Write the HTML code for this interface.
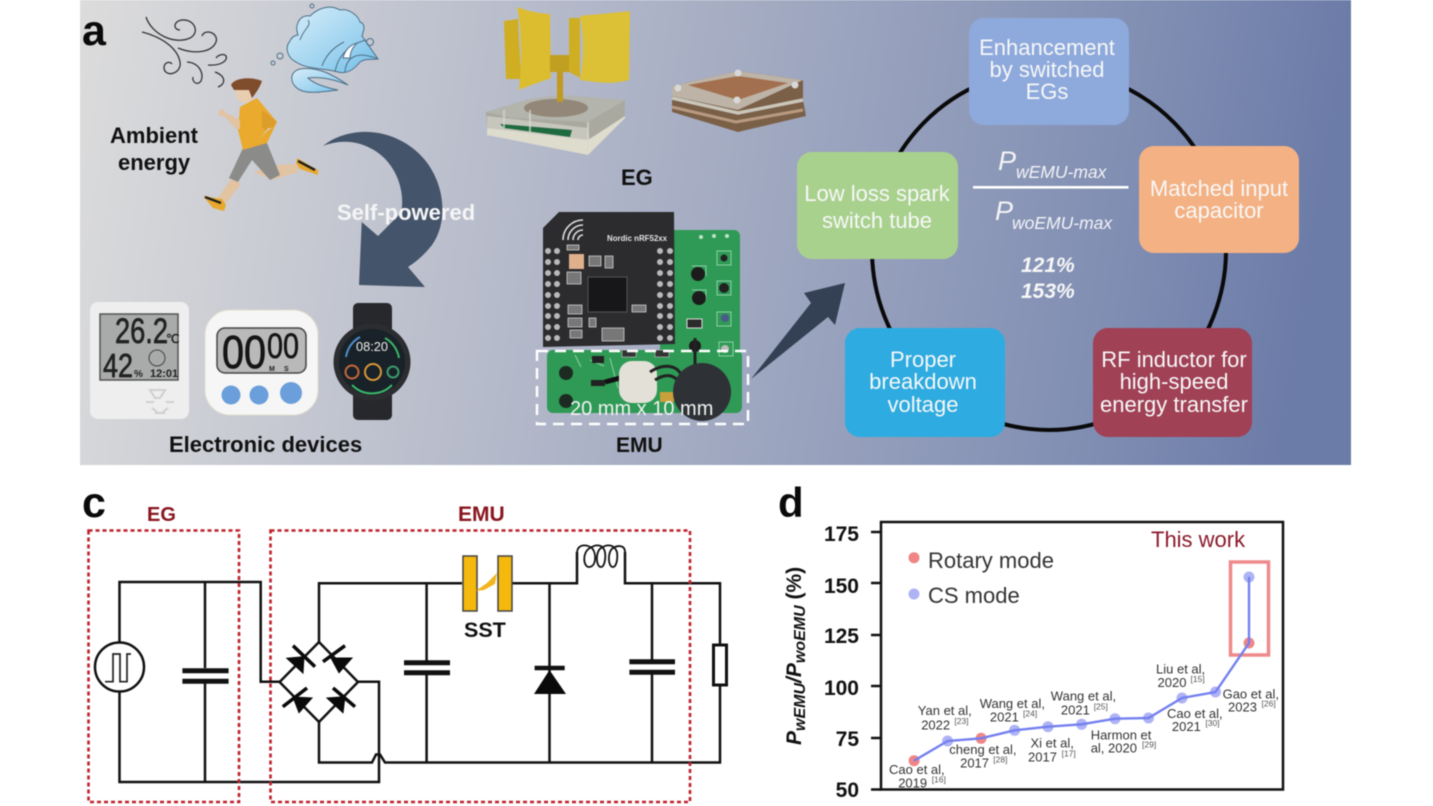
<!DOCTYPE html>
<html><head><meta charset="utf-8"><title>EMU diagram</title>
<style>
html,body{margin:0;padding:0;background:#fff;width:1433px;height:806px;overflow:hidden}
svg{display:block;filter:blur(.6px)}
text{font-family:"Liberation Sans",sans-serif}
.b{font-weight:bold}
.w{fill:#f7f8f8;font-size:22px;text-anchor:middle}
.c{font-size:13px;fill:#333}
.s{font-size:8.500px;fill:#555}
.t{font-size:21px;font-weight:bold;text-anchor:end;fill:#111}
.wire{fill:none;stroke:#111;stroke-width:2.500}
.plate{stroke:#111;stroke-width:5;fill:none}
</style></head><body>
<svg width="1433" height="806" viewBox="0 0 1433 806" xmlns="http://www.w3.org/2000/svg">
<defs>
<linearGradient id="bg" x1="0" y1="0" x2="1" y2="0.06">
<stop offset="0" stop-color="#dcdcdc"/><stop offset=".3" stop-color="#bdc1ce"/><stop offset=".6" stop-color="#9ca5bf"/><stop offset=".85" stop-color="#808eb3"/><stop offset="1" stop-color="#6c7ca8"/>
</linearGradient>
<linearGradient id="cloud" x1="0" y1="0" x2="1" y2="1"><stop offset="0" stop-color="#d8eef9"/><stop offset=".6" stop-color="#9ed3f0"/><stop offset="1" stop-color="#6fbde8"/></linearGradient>
</defs>
<rect width="1433" height="806" fill="#fff"/>
<rect x="80" y="0" width="1271" height="465" fill="url(#bg)"/>

<!-- labels -->
<text x="82" y="45" font-size="43" class="b" fill="#0a0a0a">a</text>
<text x="110" y="143" font-size="22" class="b" fill="#111">Ambient</text>
<text x="118" y="170" font-size="22" class="b" fill="#111">energy</text>

<!-- wind -->
<g fill="none" stroke="#333" stroke-width="1.300">
<path d="M146 17C152 35 175 45 190 38C200 33 195 19 182 20C173 21 173 30 180 30"/>
<path d="M142 32C165 38 178 50 180 62C182 74 165 78 164 68C164 62 170 61 172 64"/>
<path d="M178 48C195 55 212 52 216 42C219 33 205 28 202 36"/>
<path d="M187 62C200 63 204 74 201 81C197 86 192 82 193 77"/>
<path d="M208 65C222 66 228 60 226 56C224 53 218 55 216 58"/>
<path d="M215 72C226 76 226 84 218 87"/>
</g>

<!-- cloud -->
<g stroke="#4d6f86" stroke-width="1">
<path d="M296 62C288 58 284 48 290 41C292 36 297 35 298 35C294 25 300 14 310 16C318 8 330 4 340 10C348 8 358 15 360 22C366 24 364 30 362 36L378 59C370 60 366 58 360 62C352 72 345 74 338 72C325 68 308 70 296 62Z" fill="url(#cloud)"/>
<path d="M300 90C290 85 288 72 300 69C318 66 335 76 348 85C336 80 320 76 308 78C314 84 328 88 338 90C322 92 308 94 300 90Z" fill="url(#cloud)"/>
<g fill="none"><path d="M335 72C338 55 350 44 366 40"/><path d="M345 72C346 58 356 50 378 59"/><path d="M322 66C326 55 334 47 344 42"/><path d="M300 40C304 28 312 26 308 20"/></g>
<path d="M343 58C345 50 350 45 357 43C352 48 350 53 350 58Z" fill="#fff"/>
<circle cx="280" cy="56" r="3" fill="none"/><circle cx="273" cy="63" r="2" fill="none"/><circle cx="312" cy="6" r="2" fill="none"/><circle cx="370" cy="42" r="3.500" fill="none"/>
</g>

<!-- runner -->
<g>
<path d="M254 172L272 180L298 172L298 164L278 165Z" fill="#e2c3a2"/>
<path d="M232 178L241 184L226 203L218 198Z" fill="#e2c3a2"/>
<path d="M243 148L267 143L280 175L270 180L252 160L238 182L229 178Z" fill="#8b8b8a"/>
<path d="M240 107L257 98L277 122L267 143L243 150L238 130Z" fill="#e9aa2e"/>
<path d="M262 110L277 122L268 133L262 127Z" fill="#dd9d2a"/>
<path d="M240 120L222 111L224 116L236 129L240 129Z" fill="#e2c3a2"/>
<circle cx="222" cy="113" r="3.500" fill="#e2c3a2"/>
<path d="M268 128L260 138L264 134L272 128Z" fill="#e2c3a2"/>
<path d="M235 90L252 88L252 100L246 103L238 100Z" fill="#e8cdb0"/>
<path d="M231 85C234 78 250 76 262 81C260 87 256 93 252 98L249 90L240 90L234 90Z" fill="#7f4c2c"/>
<path d="M203 196L222 199L226 205L224 211L213 208Z" fill="#e8a82e"/>
<path d="M205 197L221 203" stroke="#222" stroke-width="2.500"/>
<path d="M297 158L318 170L318 175L300 169L296 163Z" fill="#e8a82e"/>
<path d="M298 161L315 170" stroke="#222" stroke-width="2.500"/>
</g>

<!-- big arrow -->
<path d="M323 146C345 128 385 125 415 150C445 175 450 220 432 245Q422 258 408 267L425 287L359 285L361.700 222L378 236L401 213C406 190 395 160 370 148C355 140 338 140 323 146Z" fill="#44546a"/>
<text x="337" y="220" font-size="22" class="b" fill="#f5f5f5">Self-powered</text>

<!-- thermometer -->
<rect x="90" y="302" width="99" height="117" rx="8" fill="#eeeeee"/>
<rect x="100" y="314" width="78" height="66" fill="#a8abaa" stroke="#555" stroke-width="1.500"/>
<text x="115" y="343" font-size="35" fill="#222" stroke="#222" stroke-width=".7" textLength="53" lengthAdjust="spacingAndGlyphs">26.2</text>
<text x="103" y="377" font-size="33" fill="#222" stroke="#222" stroke-width=".7" textLength="30" lengthAdjust="spacingAndGlyphs">42</text>
<text x="134" y="377" font-size="10" class="b" fill="#222">%</text>
<text x="150" y="377" font-size="11" class="b" fill="#222">12:01</text>
<circle cx="157" cy="358" r="8" fill="none" stroke="#444"/>
<text x="166" y="343" font-size="12" class="b" fill="#222">℃</text>
<g stroke="#cfcfcf" stroke-width="2" fill="none"><path d="M150 390L165 390L160 398L155 398Z"/><path d="M146 402h8M166 402h8M152 408l5 4M168 408l-5 4M155 413h10"/></g>

<!-- timer -->
<rect x="205" y="310" width="113" height="105" rx="25" fill="#f6f6f6" stroke="#e0dccd"/>
<rect x="217" y="328" width="89" height="45" rx="8" fill="#b9b9b9" stroke="#444" stroke-width="1.500"/>
<text x="222" y="368" font-size="46" fill="#151515" stroke="#151515" stroke-width=".8" textLength="44" lengthAdjust="spacingAndGlyphs">00</text>
<text x="267" y="358" font-size="35" fill="#151515" stroke="#151515" stroke-width=".6" textLength="32" lengthAdjust="spacingAndGlyphs">00</text>
<text x="269" y="371" font-size="7" class="b" fill="#222">M</text><text x="284" y="371" font-size="7" class="b" fill="#222">S</text>
<circle cx="231" cy="395" r="9.500" fill="#6b9fdb"/><circle cx="259" cy="395" r="9.500" fill="#6b9fdb"/><circle cx="291" cy="393" r="11" fill="#6b9fdb"/>

<!-- watch -->
<rect x="353" y="303" width="39" height="117" rx="5" fill="#26282b"/>
<circle cx="372" cy="362" r="38.500" fill="#2b2d30"/>
<circle cx="372" cy="362" r="33" fill="#182228"/>
<text x="356" y="351" font-size="13" fill="#eee" textLength="32" lengthAdjust="spacingAndGlyphs">08:20</text>
<g fill="none" stroke-width="2">
<path d="M346 357A27 27 0 0 1 360 337" stroke="#4d8fd0"/>
<path d="M385 338A28 28 0 0 1 399 358" stroke="#3cb56a"/>
<path d="M352 385A28 28 0 0 0 392 385" stroke="#3cb56a"/>
<circle cx="352" cy="372" r="6.500" stroke="#c9683a"/><circle cx="373" cy="372" r="8" stroke="#d9963a"/><circle cx="393" cy="372" r="5.500" stroke="#3c9a6a"/>
</g>
<text x="169" y="452" font-size="22" class="b" fill="#111">Electronic devices</text>

<!-- turbine -->
<g>
<path d="M486 112L530 99L560 95L625 100L625 117L588 155L487 133Z" fill="#a9a99f"/>
<path d="M486 112L530 99L560 95L625 100L588 122L512 118Z" fill="#b3b4ac"/>
<ellipse cx="556" cy="108" rx="32" ry="9" fill="#928778"/>
<path d="M487 116L588 128L590 142L487 128Z" fill="#c6c6bd"/>
<path d="M500 124L572 130L570 137L504 128Z" fill="#1f6b3f"/>
<path d="M588 140L625 116L625 118L588 155L487 135L487 128Z" fill="#dedccd"/>
<path d="M504 110L504 128M530 110L530 132M588 122L588 150" stroke="#d8d8d0" stroke-width="2" opacity=".7"/>
<rect x="557" y="72" width="6" height="30" fill="#c19a1f"/>
<path d="M504 21L518 19L521 79L506 79Z" fill="#cfae22"/>
<path d="M517 7C530 12 544 14 550 14L551 78C540 82 528 86 519 90C522 60 522 30 517 7Z" fill="#dcbd30"/>
<rect x="550" y="55" width="30" height="17" fill="#c19f20"/>
<path d="M569 18L580 18L580 78L569 72Z" fill="#cfae22"/>
<path d="M580 16C598 14 615 13 630 11L629 80C612 85 595 82 580 80C584 60 584 35 580 16Z" fill="#dcc035"/>
</g>

<!-- stack -->
<g>
<path d="M672 86L738 71L803 80L803 100L806 116L738 132L672 112Z" fill="#7b6048"/>
<path d="M672 86L738 71L803 80L738 110L672 96Z" fill="#bdb3a6"/>
<path d="M688 85L738 76L788 83L738 100Z" fill="#a3704f"/>
<path d="M672 98L738 113L803 100" fill="none" stroke="#c9c6ba" stroke-width="3.500"/>
<path d="M672 107L736 122L803 110" fill="none" stroke="#b89a80" stroke-width="3"/>
<circle cx="678" cy="88" r="3.500" fill="#d8d8d8"/><circle cx="738" cy="73" r="3.500" fill="#d8d8d8"/><circle cx="795" cy="85" r="3.500" fill="#d8d8d8"/><circle cx="737" cy="100" r="3.500" fill="#d8d8d8"/>
</g>
<text x="621" y="185" font-size="22" class="b" fill="#111">EG</text>

<!-- PCB -->
<rect x="660" y="230" width="80" height="135" rx="6" fill="#2e9a55"/>
<rect x="547" y="350" width="195" height="63" rx="6" fill="#2e9a55"/>
<g fill="none" stroke="#8fd0a8" stroke-width="1"><rect x="717" y="251" width="14" height="14"/><rect x="717" y="281" width="14" height="14"/><rect x="717" y="312" width="14" height="14"/><rect x="719" y="342" width="14" height="14"/><path d="M692 266h14v10M692 290h14v10"/><path d="M590 360l14 6M610 358l8 30M575 355l6 12"/></g>
<circle cx="701" cy="237" r="2" fill="#bfe3cb"/><circle cx="714" cy="236" r="2" fill="#bfe3cb"/><circle cx="727" cy="236" r="2" fill="#bfe3cb"/>
<circle cx="724" cy="258" r="3.500" fill="#222"/><circle cx="724" cy="288" r="5" fill="#222"/><circle cx="725" cy="318" r="4" fill="#4a5a8a"/><circle cx="725" cy="349" r="4" fill="#bbb"/>
<circle cx="698" cy="274" r="7" fill="#1c1c1c"/><circle cx="699" cy="298" r="7" fill="#1c1c1c"/><rect x="687" y="319" width="15" height="9" fill="#2a2a2a" stroke="#ddd"/>
<circle cx="695" cy="346" r="6" fill="#1d1d1d"/><path d="M695 338V365" stroke="#222" stroke-width="3"/>
<path d="M543 228L559 212L674 212L675 344L543 347Z" fill="#2c2c2f"/>
<text x="607" y="241" font-size="8.500" class="b" fill="#e3e3e3" textLength="60" lengthAdjust="spacingAndGlyphs">Nordic nRF52xx</text>
<g fill="none" stroke="#ddd" stroke-width="1.600"><path d="M563 240A20 20 0 0 1 583 220"/><path d="M568 240A15 15 0 0 1 583 225"/><path d="M573 240A10 10 0 0 1 583 230"/><path d="M578 240A5 5 0 0 1 583 235"/></g>
<rect x="588" y="277" width="39" height="35" fill="#17171a" stroke="#555"/>
<rect x="569" y="254" width="15" height="15" fill="#e0b08c"/>
<g fill="#777" stroke="#ddd" stroke-width=".7"><rect x="567" y="272" width="14" height="12"/><rect x="589" y="256" width="12" height="10"/><rect x="605" y="256" width="8" height="12"/><rect x="632" y="305" width="14" height="7"/><rect x="568" y="305" width="14" height="9"/><rect x="568" y="318" width="14" height="9"/><rect x="570" y="330" width="12" height="8"/><rect x="602" y="328" width="22" height="13"/><rect x="589" y="318" width="7" height="9"/><rect x="567" y="245" width="12" height="5"/></g>
<g fill="#b9b9b9"><circle cx="548" cy="251" r="3"/><circle cx="557" cy="251" r="3"/><circle cx="548" cy="262" r="3"/><circle cx="557" cy="262" r="3"/><circle cx="548" cy="273" r="3"/><circle cx="557" cy="273" r="3"/><circle cx="548" cy="284" r="3"/><circle cx="557" cy="284" r="3"/><circle cx="548" cy="295" r="3"/><circle cx="557" cy="295" r="3"/><circle cx="548" cy="306" r="3"/><circle cx="557" cy="306" r="3"/><circle cx="548" cy="316" r="3"/><circle cx="557" cy="316" r="3"/><circle cx="548" cy="327" r="3"/><circle cx="557" cy="327" r="3"/><circle cx="548" cy="338" r="3"/><circle cx="557" cy="338" r="3"/>
<circle cx="660" cy="251" r="3"/><circle cx="670" cy="251" r="3"/><circle cx="660" cy="262" r="3"/><circle cx="670" cy="262" r="3"/><circle cx="660" cy="273" r="3"/><circle cx="670" cy="273" r="3"/><circle cx="660" cy="284" r="3"/><circle cx="670" cy="284" r="3"/><circle cx="660" cy="295" r="3"/><circle cx="670" cy="295" r="3"/><circle cx="660" cy="306" r="3"/><circle cx="670" cy="306" r="3"/><circle cx="660" cy="316" r="3"/><circle cx="670" cy="316" r="3"/><circle cx="660" cy="327" r="3"/><circle cx="670" cy="327" r="3"/><circle cx="660" cy="338" r="3"/><circle cx="670" cy="338" r="3"/></g>
<circle cx="566" cy="373" r="7" fill="#1c2a22"/><circle cx="566" cy="401" r="7" fill="#1c2a22"/>
<rect x="592" y="356" width="12" height="7" fill="#222"/><rect x="591" y="380" width="14" height="6" fill="#222"/><rect x="622" y="350" width="14" height="7" fill="#333" stroke="#ccc" stroke-width=".6"/><rect x="655" y="350" width="14" height="7" fill="#333" stroke="#ccc" stroke-width=".6"/>
<path d="M605 382L620 378" stroke="#111" stroke-width="5"/>
<rect x="619" y="361" width="38" height="42" rx="13" fill="#e3e0d8"/>
<path d="M650 372C665 362 680 366 682 378M655 380C668 372 676 376 680 384" fill="none" stroke="#222" stroke-width="3"/>
<rect x="660" y="392" width="14" height="10" fill="#c9a03a"/>
<circle cx="702" cy="392" r="29" fill="#2e3236"/>
<rect x="537" y="351" width="211" height="73" fill="none" stroke="#fff" stroke-width="2.500" stroke-dasharray="11 7"/>
<text x="570" y="415" font-size="20" fill="#f1f1f1">20 mm x 10 mm</text>
<text x="616" y="452" font-size="21" class="b" fill="#111">EMU</text>

<!-- small arrow -->
<path d="M751 379L811 303L804 293L845 283L835 325L828 317Z" fill="#344154"/>

<!-- ring -->
<ellipse cx="1049" cy="250" rx="177" ry="180" fill="none" stroke="#0a0a0a" stroke-width="4"/>
<rect x="969" y="18" width="160" height="107" rx="15" fill="#8ea9db"/>
<rect x="797" y="152" width="161" height="107" rx="15" fill="#a9d18e"/>
<rect x="1139" y="146" width="160" height="107" rx="15" fill="#f4b183"/>
<rect x="845" y="328" width="160" height="109" rx="15" fill="#2eabe0"/>
<rect x="1093" y="328" width="159" height="109" rx="15" fill="#a04155"/>
<text x="1047" y="55" class="w">Enhancement</text><text x="1047" y="77" class="w">by switched</text><text x="1047" y="99" class="w">EGs</text>
<text x="877" y="201" class="w">Low loss spark</text><text x="877" y="228" class="w">switch tube</text>
<text x="1219" y="196" class="w">Matched input</text><text x="1219" y="218" class="w">capacitor</text>
<text x="923" y="367" class="w">Proper</text><text x="923" y="389" class="w">breakdown</text><text x="923" y="412" class="w">voltage</text>
<text x="1174" y="367" class="w">RF inductor for</text><text x="1174" y="389" class="w">high-speed</text><text x="1174" y="412" class="w">energy transfer</text>
<text x="998" y="170" font-size="27" font-style="italic" fill="#f2f3f6">P</text>
<text x="1016" y="178" font-size="17.500" font-style="italic" fill="#f2f3f6">wEMU-max</text>
<rect x="973" y="186" width="155.500" height="2.600" fill="#fff"/>
<text x="995" y="220" font-size="27" font-style="italic" fill="#f2f3f6">P</text>
<text x="1012" y="229" font-size="17.500" font-style="italic" fill="#f2f3f6">woEMU-max</text>
<text x="1021" y="272" font-size="21" font-weight="bold" font-style="italic" fill="#f7f7f7">121%</text>
<text x="1021" y="298" font-size="21" font-weight="bold" font-style="italic" fill="#f7f7f7">153%</text>

<!-- panel c -->
<text x="82" y="517" font-size="43" class="b" fill="#0a0a0a">c</text>
<text x="147" y="521" font-size="20" class="b" fill="#8a1620">EG</text>
<text x="458" y="521" font-size="21" class="b" fill="#8a1620">EMU</text>
<g class="wire">
<path class="wire" d="M119.500 642.500V582H260.700V681.700H279.600"/>
<path class="wire" d="M119.500 692V782H379V681.700H358"/>
<path class="wire" d="M205 582V668M205 682V782"/>
<path class="wire" d="M279.600 682L319 642L358 682L319 722Z"/>
<path class="wire" d="M319 642V583.300H462M512 583.300H577V552"/>
<path class="wire" d="M625 552V583.300H720V645M720 685V762.500H385L380 754.500H376L372 762.500H319V722"/>
<path class="wire" d="M426.600 583.300V662M426.600 673V762.500"/>
<path class="wire" d="M549.500 583.300V762.500"/>
<path class="wire" d="M652 583.300V661M652 672V762.500"/>
<path class="wire" style="stroke-width:1.800" d="M577 552C578 544 586 544 592 548C597 554 596 567 589 567C583 567 582 552 590 548C596 544 603 544 605 552C606 560 604 567 601 567C596 567 595 552 601 548C607 544 614 544 617 552C618 560 616 567 613 567C608 567 607 552 613 548C618 545 625 545 625 552"/>
</g>
<circle cx="119.500" cy="667" r="24.500" fill="#fff" stroke="#111" stroke-width="2.500"/>
<path d="M105 681.700H113V654H120V681.700H127V654H131" fill="none" stroke="#222" stroke-width="1.700"/>
<path class="plate" d="M182.400 670.700H228.600M182.400 681.300H228.600"/>
<path class="plate" d="M404 662.700H450M404 672.700H450"/>
<path class="plate" d="M629.400 661.700H675M629.400 672.300H675"/>
<rect x="713.500" y="645" width="13" height="40" fill="#fff" stroke="#111" stroke-width="3"/>
<rect x="463" y="556" width="14" height="55" fill="#f5b80c" stroke="#444" stroke-width="1.500"/>
<rect x="498" y="556" width="14" height="55" fill="#f5b80c" stroke="#444" stroke-width="1.500"/>
<path d="M475.600 591L487 583L497 573L495 584L484 590Z" fill="#f2b41f"/>
<text x="464" y="637" font-size="21.500" class="b" fill="#111">SST</text>
<path d="M534 694L566 694L549.500 670Z" fill="#0a0a0a"/>
<path class="plate" style="stroke-width:4.500" d="M534.600 668H564.700"/>
<g fill="#0a0a0a" stroke="#0a0a0a">
<path d="M286.800 658.300L304 656.700L303 673Z"/><path d="M293 645.700L315 666.700" stroke-width="3.500"/>
<path d="M331 658L352 658L339 672.700Z"/><path d="M323 661.700L345 645.700" stroke-width="3.500"/>
<path d="M293 697L312 698L299 712.700Z"/><path d="M282.800 706.700L307 688" stroke-width="3.500"/>
<path d="M327 698L345 696.700L343 712.700Z"/><path d="M333 688L355 706.700" stroke-width="3.500"/>
</g>
<rect x="88.500" y="530.500" width="150.500" height="271.500" fill="none" stroke="#c0222c" stroke-width="2.600" stroke-dasharray="4 3"/>
<rect x="270.500" y="530.500" width="419.500" height="271.500" fill="none" stroke="#c0222c" stroke-width="2.600" stroke-dasharray="4 3"/>

<!-- panel d -->
<text x="778" y="517" font-size="42" class="b" fill="#0a0a0a">d</text>
<rect x="881" y="522" width="402" height="267.500" fill="none" stroke="#111" stroke-width="2.500"/>
<path d="M871 532H881M871 583H881M871 635H881M871 686H881M871 738H881M871 789.500H881" stroke="#111" stroke-width="2.500"/>
<text x="859" y="541" class="t">175</text><text x="859" y="593" class="t">150</text><text x="859" y="643" class="t">125</text><text x="859" y="695" class="t">100</text><text x="859" y="746" class="t">75</text><text x="859" y="797" class="t">50</text>
<g transform="translate(801,745) rotate(-90)"><text x="0" y="0" font-size="21" font-weight="bold" font-style="italic" fill="#111">P<tspan font-size="16" dy="4">wEMU</tspan><tspan dy="-4">/P</tspan><tspan font-size="16" dy="4">woEMU</tspan><tspan dy="-4" font-style="normal" font-weight="bold"> (%)</tspan></text></g>
<circle cx="914" cy="557.700" r="5.500" fill="#f08585"/><circle cx="914" cy="594" r="5.500" fill="#adb3f5"/>
<text x="928" y="568" font-size="22" fill="#333">Rotary mode</text>
<text x="928" y="603" font-size="22" fill="#333">CS mode</text>
<text x="1151" y="547" font-size="22" fill="#8b1a2b">This work</text>
<rect x="1230.500" y="562" width="38" height="93" fill="none" stroke="#ee8a8c" stroke-width="3.500"/>
<g fill="#adb3f5"><circle cx="947.600" cy="741" r="5.500"/><circle cx="1014.600" cy="730.300" r="5.500"/><circle cx="1048" cy="726.700" r="5.500"/><circle cx="1081.600" cy="724.300" r="5.500"/><circle cx="1115" cy="718.700" r="5.500"/><circle cx="1148.500" cy="718" r="5.500"/><circle cx="1182" cy="698" r="5.500"/><circle cx="1215.500" cy="692" r="5.500"/><circle cx="1249" cy="577" r="5.500"/></g>
<g fill="#f08585"><circle cx="914.100" cy="760.700" r="5.500"/><circle cx="981.100" cy="738.300" r="5.500"/><circle cx="1249" cy="643" r="5.500"/></g>
<polyline points="914.100,760.700 947.600,741 981.100,738.300 1014.600,730.300 1048,726.700 1081.600,724.300 1115,718.700 1148.500,718 1182,698 1215.500,692 1249,643 1249,577" fill="none" stroke="#7480ef" stroke-width="2.400"/>
<text class="c" x="917.800" y="715">Yan et al,</text><text class="c" x="921.200" y="729.300">2022</text><text class="s" x="954.400" y="724">[23]</text>
<text class="c" x="979.700" y="708">Wang et al,</text><text class="c" x="989.900" y="721.700">2021</text><text class="s" x="1023" y="716.700">[24]</text>
<text class="c" x="1050.800" y="700.700">Wang et al,</text><text class="c" x="1060.900" y="714.300">2021</text><text class="s" x="1093.700" y="709.300">[25]</text>
<text class="c" x="1156" y="673.700">Liu et al,</text><text class="c" x="1157.500" y="687">2020</text><text class="s" x="1190.500" y="682">[15]</text>
<text class="c" x="1222.600" y="698.300">Gao et al,</text><text class="c" x="1228" y="711.700">2023</text><text class="s" x="1261.500" y="706.700">[26]</text>
<text class="c" x="1167" y="718">Cao et al,</text><text class="c" x="1171.900" y="731">2021</text><text class="s" x="1205.400" y="726">[30]</text>
<text class="c" x="1090.700" y="739.300">Harmon et</text><text class="c" x="1090.700" y="752.300">al, 2020</text><text class="s" x="1142" y="747.300">[29]</text>
<text class="c" x="1030.500" y="747.700">Xi et al,</text><text class="c" x="1028" y="761.700">2017</text><text class="s" x="1061.600" y="756.700">[17]</text>
<text class="c" x="949.300" y="754">cheng et al,</text><text class="c" x="960.100" y="767.300">2017</text><text class="s" x="993.300" y="762.300">[28]</text>
<text class="c" x="889" y="774">Cao et al,</text><text class="c" x="898.200" y="787.300">2019</text><text class="s" x="931.700" y="782.300">[16]</text>
</svg>
</body></html>
